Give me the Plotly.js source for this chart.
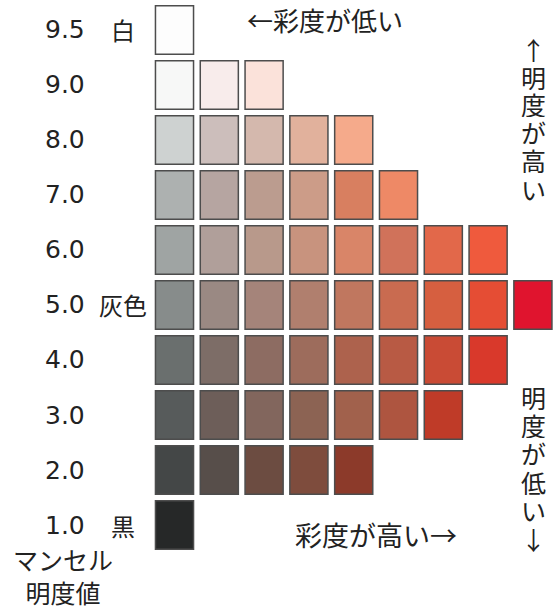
<!DOCTYPE html>
<html>
<head>
<meta charset="utf-8">
<script src="https://cdn.plot.ly/plotly-3.0.1.min.js"></script>
<style>html,body{margin:0;padding:0;background:#fff;}#chart{width:558px;height:608px;}</style>
</head>
<body>
<div id="chart"></div>
<script>
// Munsell value (明度) rows, top to bottom
const valueLabels = ["9.5", "9.0", "8.0", "7.0", "6.0", "5.0", "4.0", "3.0", "2.0", "1.0"];
const valueNames  = ["白", "", "", "", "", "灰色", "", "", "", "黒"];
// colour chips per row, from low chroma (left) to high chroma (right)
const row95 = ["#fdfdfd"];
const row90 = ["#f7f8f7", "#f8eceb", "#fbe2da"];
const row80 = ["#ced2d1", "#ccbebb", "#d4b8ad", "#e1b19c", "#f5aa8b"];
const row70 = ["#adb1b0", "#b6a5a1", "#bb9c8f", "#cc9c88", "#d87f60", "#ee8966"];
const row60 = ["#9fa4a3", "#b09f9a", "#b8998b", "#c8937e", "#d98568", "#d0725a", "#e2684a", "#ef5a3d"];
const row50 = ["#878c8b", "#9a8983", "#a5847a", "#b07f6e", "#c0775f", "#c96b50", "#d65f40", "#e54d34", "#e0142e"];
const row40 = ["#6a6f6e", "#7d6d67", "#8d6c62", "#9d6c5c", "#ad624d", "#b85a44", "#c94b35", "#d9392b"];
const row30 = ["#575b5b", "#6d5e59", "#82665d", "#8c6353", "#a1614c", "#ae5540", "#bf3b28"];
const row20 = ["#444747", "#574e4a", "#6c4c41", "#7e4c3d", "#8c3a2a"];
const row10 = ["#262828"];
const rows = [row95, row90, row80, row70, row60, row50, row40, row30, row20, row10];

const topText = "←彩度が低い";
const bottomText = "彩度が高い→";
const rightUpper = ["↑", "明", "度", "が", "高", "い"];
const rightLower = ["明", "度", "が", "低", "い", "↓"];
const axisTitle = "マンセル<br>明度値";

const FONT = "Noto Sans CJK JP, Noto Sans, sans-serif";
const NUMFONT = "DejaVu Sans, sans-serif";
const nRows = rows.length;
const rowPos = i => (nRows - 1) - i;   // row index -> y value

const bx = [], by = [], bb = [], bc = [];
rows.forEach((r, i) => {
  r.forEach((col, c) => {
    bx.push(c);
    bb.push(rowPos(i) - 0.44);
    by.push(0.88);
    bc.push(col);
  });
});

const trace = {
  type: "bar",
  x: bx, y: by, base: bb,
  width: 0.85,
  marker: {color: bc, line: {color: "#4d4d4d", width: 1.5}},
  hoverinfo: "skip",
  showlegend: false
};

const W = 558, H = 608;
const px = p => p / W;
const py = p => 1 - p / H;

const ann = [];
valueLabels.forEach((t, i) => {
  ann.push({x: -2.945, y: rowPos(i), xref: "x", yref: "y", text: t, showarrow: false,
            xanchor: "left", yanchor: "middle", font: {family: NUMFONT, size: 25, color: "#222"}});
  if (valueNames[i]) {
    ann.push({x: -1.15, y: rowPos(i), xref: "x", yref: "y", text: valueNames[i], showarrow: false,
              xanchor: "center", yanchor: "middle", font: {family: FONT, size: 24, color: "#222"}});
  }
});
ann.push({x: px(325), y: py(19), xref: "paper", yref: "paper", text: topText, showarrow: false,
          xanchor: "center", yanchor: "middle", font: {family: FONT, size: 26, color: "#222"}});
ann.push({x: px(376), y: py(534), xref: "paper", yref: "paper", text: bottomText, showarrow: false,
          xanchor: "center", yanchor: "middle", font: {family: FONT, size: 27, color: "#222"}});
ann.push({x: px(63), y: py(575), xref: "paper", yref: "paper", text: axisTitle, showarrow: false,
          xanchor: "center", yanchor: "middle", font: {family: FONT, size: 25, color: "#222"}});
rightUpper.forEach((ch, k) => {
  ann.push({x: px(533), y: py(48 + 28 * k), xref: "paper", yref: "paper", text: ch, showarrow: false,
            height: 27, xanchor: "center", yanchor: "middle", font: {family: FONT, size: 25, color: "#222"}});
});
rightLower.forEach((ch, k) => {
  ann.push({x: px(533), y: py(396 + 28.4 * k), xref: "paper", yref: "paper", text: ch, showarrow: false,
            height: 27, xanchor: "center", yanchor: "middle", font: {family: FONT, size: 25, color: "#222"}});
});

const layout = {
  width: W, height: H,
  margin: {l: 0, r: 0, t: 0, b: 0, pad: 0},
  paper_bgcolor: "#ffffff", plot_bgcolor: "#ffffff",
  barmode: "overlay",
  xaxis: {range: [-3.895, 8.56], visible: false, fixedrange: true},
  yaxis: {range: [-1.509, 9.545], visible: false, fixedrange: true},
  annotations: ann,
  showlegend: false
};

Plotly.newPlot("chart", [trace], layout, {displayModeBar: false, staticPlot: true});
</script>
</body>
</html>
